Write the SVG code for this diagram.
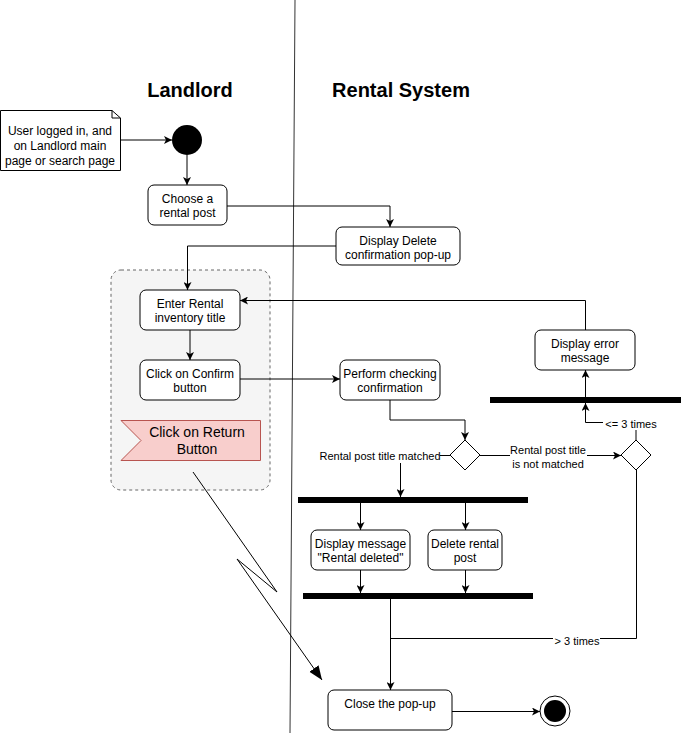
<svg xmlns="http://www.w3.org/2000/svg" width="681" height="733" viewBox="0 0 681 733">
<style>
text{font-family:"Liberation Sans",Arial,sans-serif;fill:#000}
.n{font-size:12px;text-anchor:middle}
.l{font-size:11px;text-anchor:middle}
.h{font-size:20px;font-weight:bold;text-anchor:middle}
.box{fill:#fff;stroke:#000;stroke-width:1}
.c{fill:none;stroke:#000;stroke-width:1}
.bar{fill:#000}
</style>
<defs>
<marker id="a" viewBox="0 0 10 10" refX="10" refY="5" markerWidth="8" markerHeight="8" markerUnits="userSpaceOnUse" orient="auto">
<path d="M0,0 L10,5 L0,10 L2.5,5 Z" fill="#000"/>
</marker>
<marker id="b" viewBox="0 0 10 10" refX="10" refY="5" markerWidth="14" markerHeight="14" markerUnits="userSpaceOnUse" orient="auto">
<path d="M0,1 L10,5 L0,9 Z" fill="#000"/>
</marker>
</defs>
<rect width="681" height="733" fill="#fff"/>
<line x1="295" y1="0" x2="290" y2="733" stroke="#333" stroke-width="1"/>
<text class="h" x="190" y="97">Landlord</text>
<text class="h" x="401" y="97">Rental System</text>

<g id="group">
<rect x="111" y="270" width="159" height="220" rx="10" fill="#f5f5f5" stroke="#666" stroke-dasharray="3,3"/>
</g>

<g id="note">
<path d="M0.5,110.5 H112 L120.5,118 V170.5 H0.5 Z" fill="#fff" stroke="#000"/>
<path d="M112,110.5 V118 H120.5" fill="none" stroke="#000"/>
<text class="n" x="60" y="135">User logged in, and</text>
<text class="n" x="60" y="150">on Landlord main</text>
<text class="n" x="60" y="165">page or search page</text>
</g>

<g id="start"><circle cx="187" cy="140" r="15" fill="#000"/></g>

<g id="choose">
<rect class="box" x="148" y="185" width="79" height="40" rx="6"/>
<text class="n" x="187.5" y="203">Choose a</text>
<text class="n" x="187.5" y="217">rental post</text>
</g>

<g id="displayDelete">
<rect class="box" x="336" y="227" width="124" height="38" rx="6"/>
<text class="n" x="398" y="245">Display Delete</text>
<text class="n" x="398" y="259">confirmation pop-up</text>
</g>

<g id="enterTitle">
<rect class="box" x="140" y="290" width="100" height="40" rx="6"/>
<text class="n" x="190" y="308">Enter Rental</text>
<text class="n" x="190" y="322">inventory title</text>
</g>

<g id="clickConfirm">
<rect class="box" x="140" y="360" width="100" height="40" rx="6"/>
<text class="n" x="190" y="378">Click on Confirm</text>
<text class="n" x="190" y="392">button</text>
</g>

<g id="clickReturn">
<path d="M121,420.5 H260.5 V460.5 H121 L141,440.5 Z" fill="#f8cecc" stroke="#b85450"/>
<text x="197" y="437" font-size="14" text-anchor="middle">Click on Return</text>
<text x="197" y="454" font-size="14" text-anchor="middle">Button</text>
</g>

<g id="performCheck">
<rect class="box" x="340" y="360" width="100" height="40" rx="6"/>
<text class="n" x="390" y="378">Perform checking</text>
<text class="n" x="390" y="392">confirmation</text>
</g>

<g id="displayError">
<rect class="box" x="535" y="330" width="100" height="40" rx="6"/>
<text class="n" x="585" y="348">Display error</text>
<text class="n" x="585" y="362">message</text>
</g>

<g id="decision1"><path d="M465,440 L480,455 L465,470 L450,455 Z" class="box"/></g>
<g id="decision2"><path d="M636,440 L651,455 L636,470 L621,455 Z" class="box"/></g>

<g id="forkError"><rect class="bar" x="490" y="397" width="191" height="6"/></g>
<g id="fork1"><rect class="bar" x="298" y="497" width="230" height="6"/></g>
<g id="join1"><rect class="bar" x="303" y="593" width="230" height="6"/></g>

<g id="displayMsg">
<rect class="box" x="311" y="530" width="99" height="40" rx="6"/>
<text class="n" x="360.5" y="548">Display message</text>
<text class="n" x="360.5" y="562">"Rental deleted"</text>
</g>

<g id="deletePost">
<rect class="box" x="428" y="530" width="74" height="40" rx="6"/>
<text class="n" x="465" y="548">Delete rental</text>
<text class="n" x="465" y="562">post</text>
</g>

<g id="closePopup">
<rect class="box" x="328" y="690" width="124" height="40" rx="6"/>
<text class="n" x="390" y="708">Close the pop-up</text>
</g>

<g id="end">
<circle cx="555" cy="711" r="15" fill="#fff" stroke="#000"/>
<circle cx="555" cy="711" r="11" fill="#000"/>
</g>

<g id="connectors">
<path class="c" d="M120,140 H172" marker-end="url(#a)"/>
<path class="c" d="M187,155 V185" marker-end="url(#a)"/>
<path class="c" d="M227,206 H390 V227" marker-end="url(#a)"/>
<path class="c" d="M336,246 H187.5 V290" marker-end="url(#a)"/>
<path class="c" d="M190,330 V360" marker-end="url(#a)"/>
<path class="c" d="M240,379 H340" marker-end="url(#a)"/>
<path class="c" d="M390,400 V420 H465 V440" marker-end="url(#a)"/>
<path class="c" d="M450,455.5 H400.5 V497" marker-end="url(#a)"/>
<path class="c" d="M480,455.5 H621" marker-end="url(#a)"/>
<path class="c" d="M636,440 V422.5 H585.5 V403" marker-end="url(#a)"/>
<path class="c" d="M585.5,397 V370" marker-end="url(#a)"/>
<path class="c" d="M585.5,330 V300.5 H240" marker-end="url(#a)"/>
<path class="c" d="M360.5,503 V530" marker-end="url(#a)"/>
<path class="c" d="M465.5,503 V530" marker-end="url(#a)"/>
<path class="c" d="M360.5,570 V593" marker-end="url(#a)"/>
<path class="c" d="M465.5,570 V593" marker-end="url(#a)"/>
<path class="c" d="M390.5,599 V690" marker-end="url(#a)"/>
<path class="c" d="M636.5,470 V638.5 H390.5"/>
<path class="c" d="M452,711.5 H540" marker-end="url(#a)"/>
<path class="c" d="M193,472 L277,592 L237,559 L322,680" marker-end="url(#b)"/>
<rect x="320" y="449" width="120" height="14" fill="#fff"/>
<text class="l" x="380" y="460">Rental post title matched</text>
<rect x="510" y="443" width="77" height="26" fill="#fff"/>
<text class="l" x="548" y="454">Rental post title</text>
<text class="l" x="548" y="468">is not matched</text>
<rect x="603" y="417" width="55" height="13" fill="#fff"/>
<text class="l" x="631" y="428">&lt;= 3 times</text>
<rect x="553" y="632" width="47" height="13" fill="#fff"/>
<text class="l" x="577" y="645">&gt; 3 times</text>
</g>
</svg>
